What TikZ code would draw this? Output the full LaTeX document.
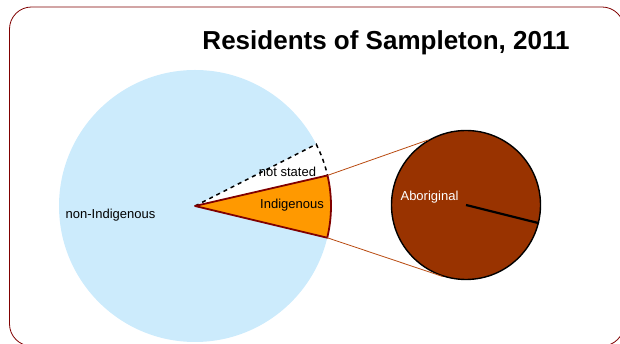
\documentclass[tikz,border=0pt]{standalone}
\usepackage{fontspec}
\setmainfont{Liberation Sans}
\begin{document}
\begin{tikzpicture}[x=1pt,y=1pt,
  lbl/.style={inner sep=0pt,font=\fontsize{13}{15}\selectfont},
  conn/.style={draw={rgb,255:red,184;green,74;blue,16},line width=0.8pt}]
\definecolor{lightblue}{RGB}{204,235,252}
\definecolor{orangeslice}{RGB}{255,153,0}
\definecolor{darkred}{RGB}{128,0,0}
\definecolor{abor}{RGB}{153,51,0}
\useasboundingbox (0,0) rectangle (620,344);
% frame
\draw[darkred,line width=0.8pt,rounded corners=22pt] (9.5,-2) rectangle (624,337);
% title
\node[inner sep=0pt,font=\fontsize{26}{30}\selectfont\bfseries] (title) at (386,301) {Residents of Sampleton, 2011};
% big pie
\coordinate (c) at (195,138);
\fill[lightblue] (c) circle[radius=136];
\fill[white] (c) -- ++(13:136) arc[start angle=13,end angle=27,radius=136] -- cycle;
\draw[black,dashed,line width=1.5pt,dash pattern=on 4pt off 4pt] (c) -- ++(27:136) arc[start angle=27,end angle=13,radius=136];
\draw[darkred,fill=orangeslice,line width=1.8pt,line join=round] (c) -- ++(13:136) coordinate (stop) arc[start angle=13,end angle=-13.5,radius=136] coordinate (sbot) -- cycle;
% small pie
\node[circle,draw=black,fill=abor,line width=1.4pt,minimum size=149pt,inner sep=0pt] (ab) at (466,139) {};
\draw[black,line width=2.2pt] (ab.center) -- (ab.-14);
% connectors
\draw[conn] (stop) -- (ab.120.7);
\draw[conn] (sbot) -- (ab.252.5);
% labels
\node[lbl] (nonind) at (110.5,129) {non-Indigenous};
\node[lbl] (ind) at (292,139) {Indigenous};
\node[lbl] (ns) at (287.5,172) {not stated};
\node[lbl,white] (abl) at (429.5,147) {Aboriginal};
\end{tikzpicture}
\end{document}
